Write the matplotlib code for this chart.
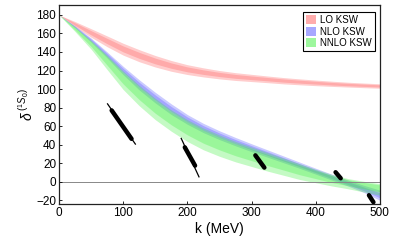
import matplotlib
matplotlib.use("Agg")
import matplotlib.pyplot as plt
from matplotlib.patches import Patch

plt.rcParams['font.family'] = ['Liberation Sans', 'DejaVu Sans']
plt.rcParams['mathtext.fontset'] = 'custom'
plt.rcParams['mathtext.rm'] = 'Liberation Sans'
plt.rcParams['mathtext.it'] = 'Liberation Sans:italic'

# momentum grid (MeV)
k = [0, 25, 50, 75, 100, 125, 150, 175, 200, 225, 250, 275, 300, 325, 350, 375, 400, 425, 450, 475, 500]

# LO KSW band (outer / inner)
lo_up = [180, 172.8, 165.1, 157.3, 149.4, 142.5, 136.2, 130.8, 126.3, 122.9, 120, 117.7, 115.9, 114.1, 112.4, 111, 109.7, 108.5, 107.4, 106.5, 105.7]
lo_dn = [180, 167.2, 155.9, 145.7, 136.6, 129.5, 123.8, 119.2, 115.7, 113.1, 111, 109.3, 108.1, 106.9, 105.6, 104.6, 103.7, 102.9, 102.2, 101.5, 100.9]
lo_in_up = [180, 171.5, 163, 154.7, 146.5, 139.6, 133.4, 128.2, 123.9, 120.7, 118, 115.8, 114.1, 112.5, 110.9, 109.6, 108.4, 107.2, 106.2, 105.4, 104.6]
lo_in_dn = [180, 168.7, 158.4, 148.9, 140.1, 133.1, 127.2, 122.4, 118.6, 115.8, 113.5, 111.6, 110.2, 108.9, 107.5, 106.4, 105.4, 104.4, 103.6, 102.9, 102.2]

# NLO KSW band
nlo_up = [180, 168, 155, 140, 124.5, 110, 96.5, 84, 72.5, 63, 55, 47.8, 41, 34.4, 27.8, 21.2, 14.6, 8.2, 1.8, -3.8, -9]
nlo_dn = [180, 166, 150.5, 133.5, 115.5, 99, 85, 72.5, 62, 53, 45.5, 38.8, 32.5, 26.5, 20.5, 14.5, 8.2, 1.8, -4.5, -11.5, -20]
nlo_in_up = [180, 167.5, 153.9, 138.4, 122.3, 107.3, 93.6, 81.1, 69.9, 60.5, 52.6, 45.5, 38.9, 32.4, 26, 19.5, 13, 6.6, 0.2, -5.7, -11.8]
nlo_in_dn = [180, 166.5, 151.6, 135.1, 117.8, 101.8, 87.9, 75.4, 64.6, 55.5, 47.9, 41.1, 34.6, 28.5, 22.3, 16.2, 9.8, 3.4, -2.9, -9.6, -17.3]

# NNLO KSW band
nnlo_up = [180, 167, 152.5, 136.5, 119.5, 104, 90, 77.5, 67, 58, 50.5, 43.5, 37.5, 31.5, 25.5, 19.5, 13.5, 8, 3.5, 0.5, -2]
nnlo_dn = [180, 162, 143, 121, 99.5, 82, 67, 54.5, 43.5, 34.5, 27.5, 21.5, 16.5, 11.5, 7, 2.5, -1, -4.5, -7.5, -11, -14.5]
nnlo_in_up = [180, 166.5, 151.5, 135, 117.5, 101.8, 87.7, 75.2, 64.7, 55.7, 48.2, 41.3, 35.4, 29.5, 23.7, 17.8, 12.1, 6.8, 2.4, -0.7, -3.3]
nnlo_in_dn = [180, 163.5, 145.9, 125.7, 105.5, 88.6, 73.9, 61.4, 50.6, 41.6, 34.4, 28.1, 22.8, 17.5, 12.6, 7.6, 3.4, -0.8, -4.2, -7.6, -10.8]

# data points: thin error range and thick core (k start, k end, delta start, delta end)
pt_k0 = [75, 190, 305, 430, 482]
pt_k1 = [119.5, 218.5, 321, 440, 491]
pt_d0 = [84.6, 47.4, 30, 11.2, -13.3]
pt_d1 = [40.1, 4.7, 13.8, 2.9, -23.5]
core_k0 = [82, 196, 306, 431, 483]
core_k1 = [113, 212, 320, 439, 490]
core_d0 = [77, 37.2, 28.5, 10.3, -14.5]
core_d1 = [46.3, 17.4, 15.3, 3.8, -22]

fig = plt.figure(figsize=(3.99, 2.47), dpi=100)
ax = fig.add_axes([0.148, 0.174, 0.804, 0.805])

c_lo, c_nlo, c_nnlo = '#ff5a5a', '#5050ff', '#3cf03c'
a = 0.3
for up, dn, iu, idn, c in [(lo_up, lo_dn, lo_in_up, lo_in_dn, c_lo),
                           (nlo_up, nlo_dn, nlo_in_up, nlo_in_dn, c_nlo),
                           (nnlo_up, nnlo_dn, nnlo_in_up, nnlo_in_dn, c_nnlo)]:
    ax.fill_between(k, dn, up, color=c, alpha=a, lw=0)
    ax.fill_between(k, idn, iu, color=c, alpha=a, lw=0)

ax.axhline(0, color='#888888', lw=0.7, zorder=1)

for i in range(len(pt_k0)):
    ax.plot([pt_k0[i], pt_k1[i]], [pt_d0[i], pt_d1[i]], color='black', lw=0.9,
            solid_capstyle='butt', zorder=5)
    ax.plot([core_k0[i], core_k1[i]], [core_d0[i], core_d1[i]], color='black', lw=3.2,
            solid_capstyle='round', zorder=5)

ax.set_xlim(0, 500)
ax.set_ylim(-24, 190.5)
ax.set_xticks([0, 100, 200, 300, 400, 500])
ax.set_yticks(range(-20, 181, 20))
ax.tick_params(direction='in', length=2.5, width=0.6, labelsize=8.5, pad=2,
               top=False, right=False)
for s in ax.spines.values():
    s.set_linewidth(0.9)
    s.set_color('#222222')

ax.set_xlabel('k (MeV)', fontsize=10, labelpad=2)
ax.set_ylabel(r'$\delta^{\,(^1S_0)}$', fontsize=10, labelpad=0)

handles = [Patch(color=c_lo, alpha=0.5, lw=0), Patch(color=c_nlo, alpha=0.5, lw=0),
           Patch(color=c_nnlo, alpha=0.5, lw=0)]
leg = ax.legend(handles, ['LO KSW', 'NLO KSW', 'NNLO KSW'], loc='upper right',
                fontsize=7, frameon=True, fancybox=False, framealpha=1,
                edgecolor='black', handlelength=1.0, handleheight=1.0,
                handletextpad=0.5, borderpad=0.3, labelspacing=0.15,
                borderaxespad=0, bbox_to_anchor=(0.985, 0.965))
leg.get_frame().set_linewidth(0.8)

fig.savefig('out.png', dpi=100)
